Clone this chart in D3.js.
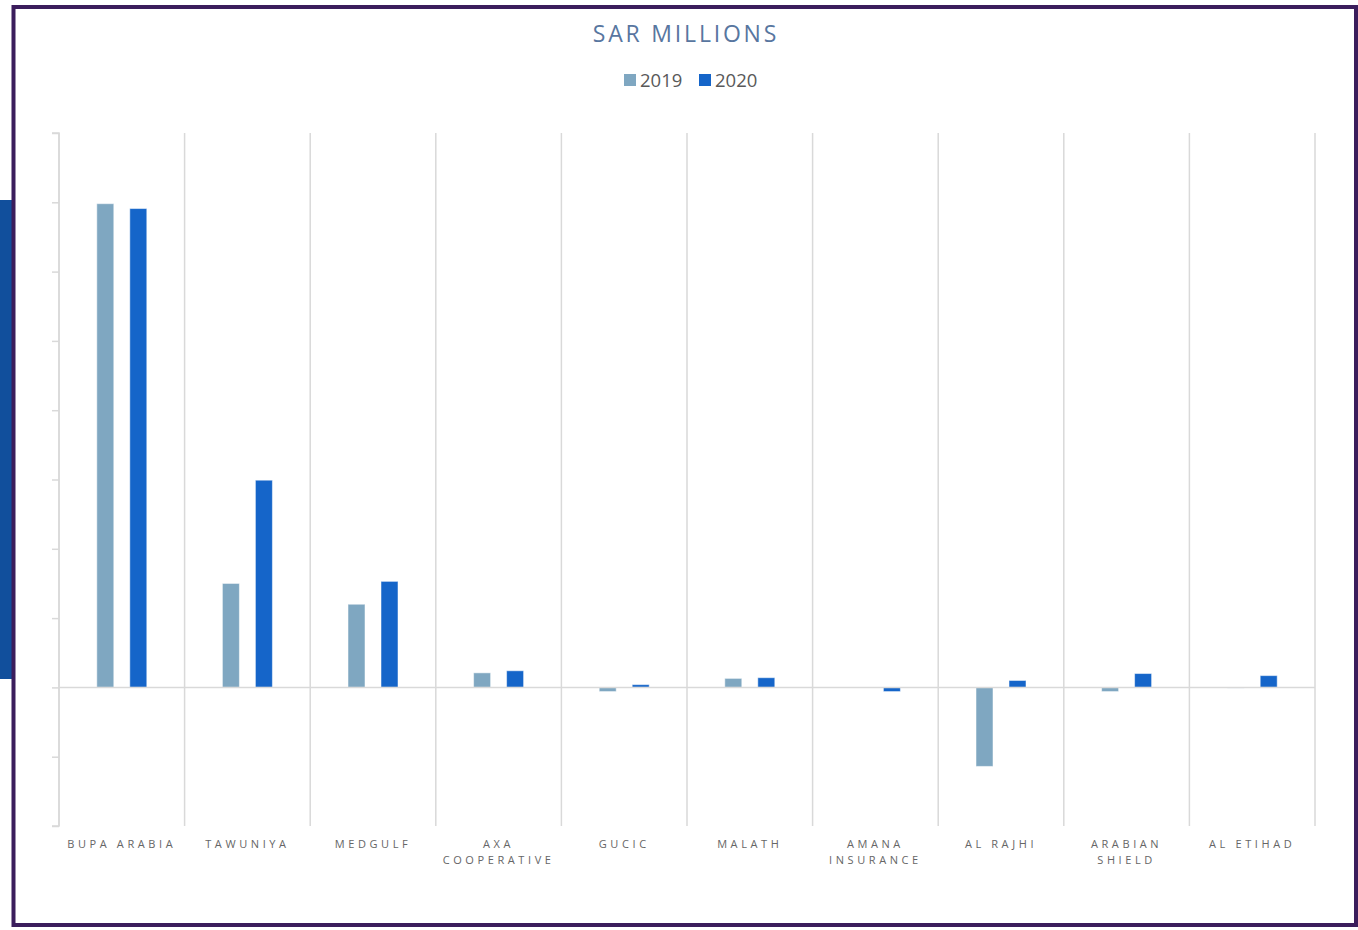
<!DOCTYPE html>
<html><head><meta charset="utf-8">
<script src="https://cdn.jsdelivr.net/npm/d3@7"></script>
<style>html,body{margin:0;padding:0;background:#fff;}svg{display:block;}</style>
</head><body>
<svg id="chart" width="1358" height="930"></svg>
<script>
const categories = [["BUPA ARABIA"],["TAWUNIYA"],["MEDGULF"],["AXA","COOPERATIVE"],["GUCIC"],["MALATH"],["AMANA","INSURANCE"],["AL RAJHI"],["ARABIAN","SHIELD"],["AL ETIHAD"]];
const series = ["2019","2020"];
const values2019 = [698, 150, 120, 21, -6, 13, 0, -114, -6, -1];
const values2020 = [691, 299, 153, 24, 4, 14, -6, 10, 20, 17];
const yTicks = [-200,-100,0,100,200,300,400,500,600,700,800];
const colors = {"2019":"#7fa7c1","2020":"#1565c9"};

const svg = d3.select("#chart");
const font = "'Open Sans', 'Noto Sans', sans-serif";

// left tab and frame
svg.append("rect").attr("x",0).attr("y",200).attr("width",13).attr("height",479).attr("fill","#114f9c");
svg.append("rect").attr("x",13.5).attr("y",7).attr("width",1342.5).attr("height",918)
  .attr("fill","none").attr("stroke","#3b1d5c").attr("stroke-width",4);

const x0 = 59, x1 = 1315, yTop = 133, yBot = 826;
const names = categories.map(c=>c.join(" "));
const x = d3.scaleBand().domain(names).range([x0,x1]).padding(0);
const y = d3.scaleLinear().domain([-200,800]).range([yBot,yTop]);

const grid = "#d9d9d9";
const bounds = names.map(n=>x(n)).concat([x1]);
svg.append("g").selectAll("line").data(bounds).join("line")
  .attr("x1",d=>d).attr("x2",d=>d).attr("y1",yTop).attr("y2",yBot)
  .attr("stroke",grid).attr("stroke-width",1.5);

const yAxis = d3.axisLeft(y).tickValues(yTicks).tickSize(7).tickFormat("");
const ga = svg.append("g").attr("transform",`translate(${x0},0)`).call(yAxis);
ga.select(".domain").attr("stroke",grid).attr("stroke-width",1.5).attr("d",`M-7,${yTop}H0V${yBot}H-7`);
ga.selectAll(".tick line").attr("stroke",grid).attr("stroke-width",1.5);

const bw = 17, off = 16.5;
const data = [];
names.forEach((n,i)=>{
  data.push({n, s:"2019", v:values2019[i], dx:-off});
  data.push({n, s:"2020", v:values2020[i], dx:off});
});
svg.append("g").selectAll("rect").data(data).join("rect")
  .attr("x",d=>x(d.n)+x.bandwidth()/2+d.dx-bw/2)
  .attr("width",bw)
  .attr("y",d=>Math.min(y(d.v),y(0)))
  .attr("height",d=>Math.abs(y(d.v)-y(0)))
  .attr("fill",d=>colors[d.s])
  .attr("stroke","rgba(255,255,255,0.5)").attr("stroke-width",1);

svg.append("line").attr("x1",x0).attr("x2",x1).attr("y1",y(0)).attr("y2",y(0))
  .attr("stroke",grid).attr("stroke-width",1.5);

const lab = svg.append("g");
categories.forEach((c,i)=>{
  const cx = x(names[i]) + x.bandwidth()/2;
  c.forEach((line,j)=>{
    lab.append("text").attr("x",cx).attr("y",848+j*16)
      .attr("text-anchor","middle").attr("font-family",font).attr("font-size",11)
      .attr("letter-spacing","3.6px").attr("fill","#666666").text(line);
  });
});

svg.append("text").attr("x",686).attr("y",42).attr("text-anchor","middle")
  .attr("font-family",font).attr("font-size",23).attr("letter-spacing","2.8px")
  .attr("fill","#5876a0").text("SAR MILLIONS");

const leg = svg.append("g");
const legX = [624, 699];
series.forEach((s,i)=>{
  leg.append("rect").attr("x",legX[i]).attr("y",74).attr("width",12).attr("height",12).attr("fill",colors[s]);
  leg.append("text").attr("x",legX[i]+16).attr("y",87).attr("font-family",font).attr("font-size",18.5)
    .attr("fill","#595959").text(s);
});
</script>
</body></html>
